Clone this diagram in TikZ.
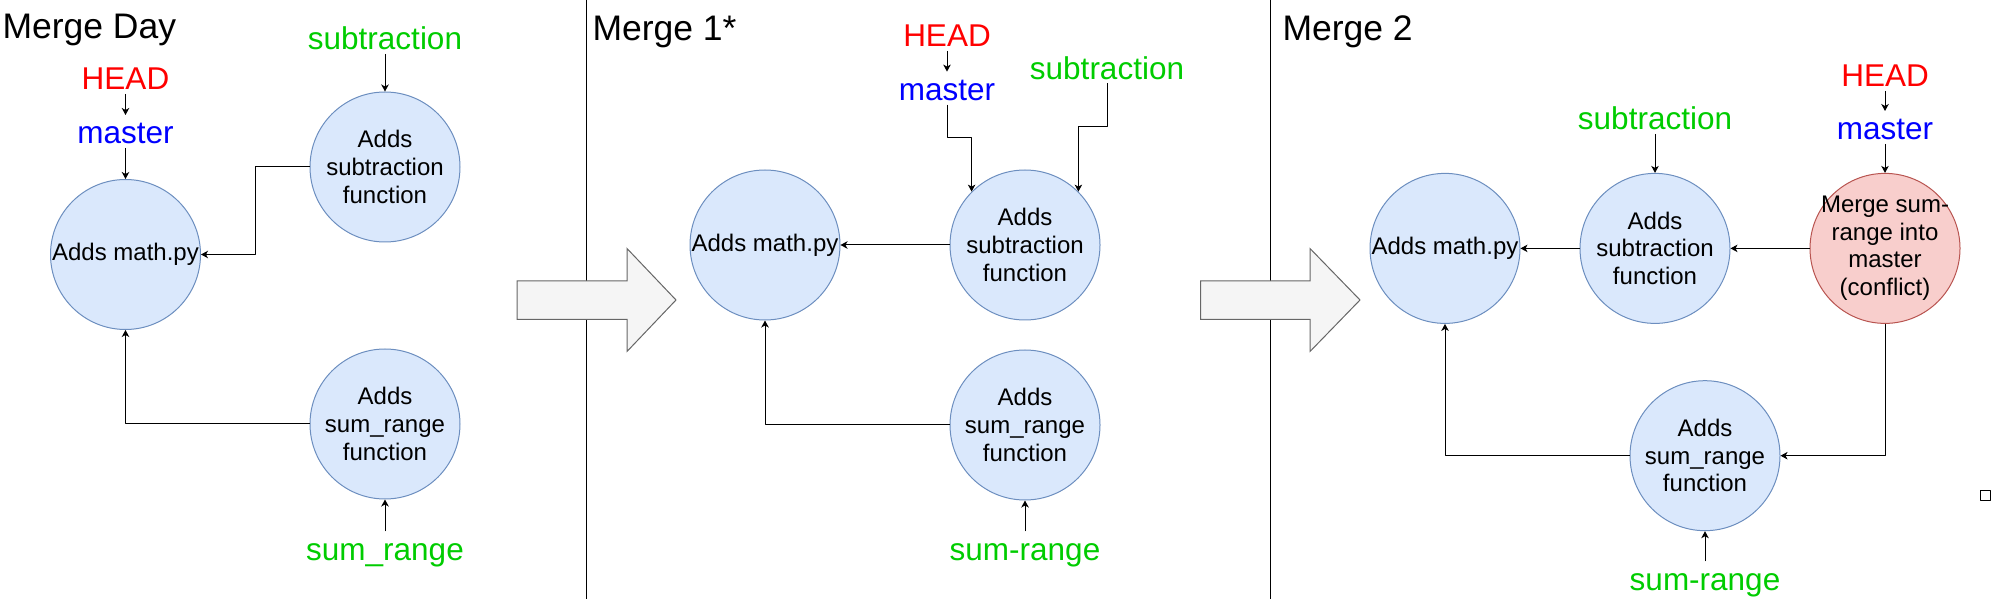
\documentclass[tikz,border=0pt]{standalone}
\usepackage{fontspec}
\setmainfont{Liberation Sans}
\usetikzlibrary{arrows.meta}
\definecolor{commitfill}{HTML}{DAE8FC}
\definecolor{commitdraw}{HTML}{6C8EBF}
\definecolor{conflictfill}{HTML}{F8CECC}
\definecolor{conflictdraw}{HTML}{B85450}
\definecolor{arrowfill}{HTML}{F5F5F5}
\definecolor{arrowdraw}{HTML}{666666}
\definecolor{headred}{HTML}{FF0000}
\definecolor{masterblue}{HTML}{0000FF}
\definecolor{branchgreen}{HTML}{00CC00}
\tikzset{
  commit/.style={circle,draw=commitdraw,fill=commitfill,minimum size=150bp,inner sep=0pt,align=center,font=\fontsize{24bp}{27.6bp}\selectfont},
  conflict/.style={commit,draw=conflictdraw,fill=conflictfill,inner sep=-10bp},
  refname/.style={anchor=base,inner sep=3.5bp,text height=25bp,text depth=0bp,font=\fontsize{31.5bp}{36bp}\selectfont},
  headref/.style={refname,text=headred},
  masterref/.style={refname,text=masterblue},
  branchref/.style={refname,text=branchgreen},
  paneltitle/.style={anchor=base west,inner sep=0pt,font=\fontsize{35.5bp}{40bp}\selectfont},
  bigarrow/.style={draw=arrowdraw,fill=arrowfill,line join=miter}
}
\begin{document}
\begin{tikzpicture}[>={Stealth[length=7bp,width=7.5bp,inset=2bp]},line join=bevel,line width=1bp]
\useasboundingbox (0bp,0bp) rectangle (1991bp,602bp);
%%
\draw [black] (586.7bp,602bp) -- (586.7bp,3bp);
\draw [black] (1270.5bp,602bp) -- (1270.5bp,3bp);
\draw [bigarrow] (517bp,282.5bp) -- (627bp,282.5bp) -- (627bp,250.5bp) -- (676bp,302bp) -- (627bp,353.5bp) -- (627bp,321bp) -- (517bp,321bp) -- cycle;
\draw [bigarrow] (1200.5bp,282.5bp) -- (1310bp,282.5bp) -- (1310bp,250.5bp) -- (1360bp,302bp) -- (1310bp,353.5bp) -- (1310bp,321bp) -- (1200.5bp,321bp) -- cycle;
\draw [black] (1980.5bp,101.5bp) rectangle (1990bp,111bp);
%%
\node (title_1) at (2bp,563.6bp) [paneltitle] {Merge Day};
  \node (head_1) at (125.5bp,512bp) [headref] {HEAD};
  \node (master_1) at (125.5bp,458bp) [masterref] {master};
  \node (math_1) at (125.5bp,347.5bp) [commit] {Adds math.py};
  \node (sub_1) at (385bp,435bp) [commit] {Adds\\subtraction\\function};
  \node (sum_1) at (385bp,178bp) [commit] {Adds\\sum\_range\\function};
  \node (sublabel_1) at (385bp,552bp) [branchref] {subtraction};
  \node (sumlabel_1) at (385bp,41.5bp) [branchref] {sum\_range};
  \draw [black,->] (head_1) -- (master_1);
  \draw [black,->] (master_1) -- (math_1);
  \draw [black,->] (sublabel_1) -- (sub_1);
  \draw [black,->] (sumlabel_1) -- (sum_1);
  \draw [black,->] (sub_1.west) -- ++(-54bp,0bp) |- (math_1.east);
  \draw [black,->] (sum_1.west) -| (math_1.south);
%
\node (title_2) at (592bp,561.7bp) [paneltitle] {Merge 1*};
  \node (head_2) at (947bp,555.2bp) [headref] {HEAD};
  \node (master_2) at (947bp,501.4bp) [masterref] {master};
  \node (math_2) at (765bp,357bp) [commit] {Adds math.py};
  \node (sub_2) at (1025bp,357bp) [commit] {Adds\\subtraction\\function};
  \node (sum_2) at (1025bp,177bp) [commit] {Adds\\sum\_range\\function};
  \node (sublabel_2) at (1107bp,522.5bp) [branchref] {subtraction};
  \node (sumlabel_2) at (1025bp,41.5bp) [branchref] {sum-range};
  \draw [black,->] (head_2) -- (master_2);
  \draw [black,->] (master_2.south) -- (947bp,464.5bp) -| (sub_2.north west);
  \draw [black,->] (sublabel_2.south) -- (1107bp,475bp) -| (sub_2.north east);
  \draw [black,->] (sumlabel_2) -- (sum_2);
  \draw [black,->] (sub_2) -- (math_2);
  \draw [black,->] (sum_2.west) -| (math_2.south);
%
\node (title_3) at (1282bp,561.7bp) [paneltitle] {Merge 2};
  \node (head_3) at (1885bp,515.2bp) [headref] {HEAD};
  \node (master_3) at (1885bp,462bp) [masterref] {master};
  \node (math_3) at (1445bp,353.6bp) [commit] {Adds math.py};
  \node (sub_3) at (1655bp,353.6bp) [commit] {Adds\\subtraction\\function};
  \node (merge_3) at (1885bp,353.6bp) [conflict] {Merge sum-\\range into\\master\\(conflict)};
  \node (sum_3) at (1705bp,146.3bp) [commit] {Adds\\sum\_range\\function};
  \node (sublabel_3) at (1655bp,472.2bp) [branchref] {subtraction};
  \node (sumlabel_3) at (1705bp,11.5bp) [branchref] {sum-range};
  \draw [black,->] (head_3) -- (master_3);
  \draw [black,->] (master_3) -- (merge_3);
  \draw [black,->] (sublabel_3) -- (sub_3);
  \draw [black,->] (sumlabel_3) -- (sum_3);
  \draw [black,->] (merge_3) -- (sub_3);
  \draw [black,->] (sub_3) -- (math_3);
  \draw [black,->] (merge_3.south) |- (sum_3.east);
  \draw [black,->] (sum_3.west) -| (math_3.south);
%
\end{tikzpicture}
\end{document}
